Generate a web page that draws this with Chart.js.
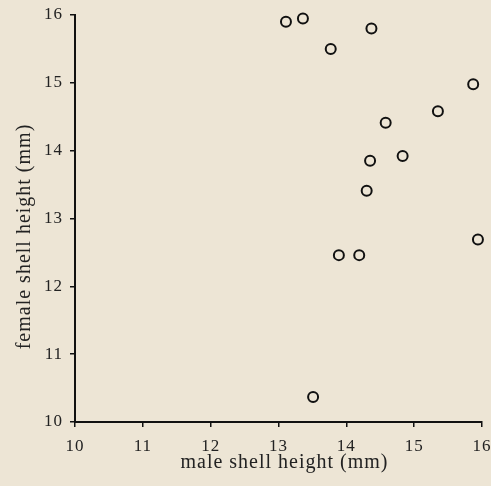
<!DOCTYPE html>
<html>
<head>
<meta charset="utf-8">
<script src="https://cdn.jsdelivr.net/npm/chart.js@4.4.0/dist/chart.umd.min.js"></script>
<style>
  html, body { margin: 0; padding: 0; background: #ede5d5; }
  #wrap { width: 491px; height: 486px; }
</style>
</head>
<body>
<div id="wrap"><canvas id="myChart" width="491" height="486"></canvas></div>
<script>
// male vs female shell height, one point per pair (mm)
const maleHeight = [13.11, 13.36, 14.37, 13.77, 15.87, 15.35, 14.58, 14.83, 14.35, 14.30, 15.94, 13.89, 14.19, 13.51]
const femaleHeight = [15.90, 15.95, 15.80, 15.50, 14.98, 14.58, 14.41, 13.92, 13.85, 13.41, 12.69, 12.46, 12.46, 10.37]
const tickValues = [10, 11, 12, 13, 14, 15, 16]

const points = maleHeight.map((x, i) => ({ x: x, y: femaleHeight[i] }))

const serif = "'Liberation Serif', 'DejaVu Serif', serif"

// the printed figure has loosely spaced letters
const looseLetters = {
    id: 'looseLetters',
    beforeLayout: chart => { chart.ctx.letterSpacing = '1px' },
    beforeDraw: chart => { chart.ctx.letterSpacing = '1px' }
}

var ctx = document.getElementById('myChart')
var myChart = new Chart(ctx, {
    type: 'scatter',
    data: {
        datasets: [{
            data: points,
            clip: false,
            pointStyle: 'circle',
            pointRadius: 5,
            pointBorderWidth: 2,
            borderColor: '#111',
            backgroundColor: 'rgba(0,0,0,0)'
        }]
    },
    options: {
        responsive: false,
        animation: false,
        layout: { padding: { top: 15, right: 9, left: 0, bottom: 0 } },
        plugins: { legend: { display: false }, tooltip: { enabled: false } },
        scales: {
            x: {
                type: 'linear',
                min: 10, max: 16,
                afterBuildTicks: s => { s.ticks = tickValues.map(v => ({ value: v })) },
                afterFit: s => { s.height = 64; s.paddingLeft = 0; s.paddingRight = 0 },
                border: { color: '#111', width: 2 },
                grid: { drawOnChartArea: false, drawTicks: true, tickLength: 5, color: '#111', lineWidth: 1.5 },
                ticks: { color: '#222', padding: 9, font: { family: serif, size: 17 } },
                title: { display: true, text: '  male shell height (mm)', color: '#222', padding: { top: 11, bottom: 11 }, font: { family: serif, size: 20 } }
            },
            y: {
                type: 'linear',
                min: 10, max: 16,
                afterBuildTicks: s => { s.ticks = tickValues.map(v => ({ value: v })) },
                afterFit: s => { s.width = 75; s.paddingTop = 0; s.paddingBottom = 0 },
                border: { color: '#111', width: 2 },
                grid: { drawOnChartArea: false, drawTicks: true, tickLength: 5, color: '#111', lineWidth: 1.5 },
                ticks: { color: '#222', padding: 7, font: { family: serif, size: 17 } },
                title: { display: true, text: 'female shell height (mm)      ', color: '#222', padding: { top: 13, bottom: 13 }, font: { family: serif, size: 20 } }
            }
        }
    },
    plugins: [looseLetters]
})
</script>
</body>
</html>
